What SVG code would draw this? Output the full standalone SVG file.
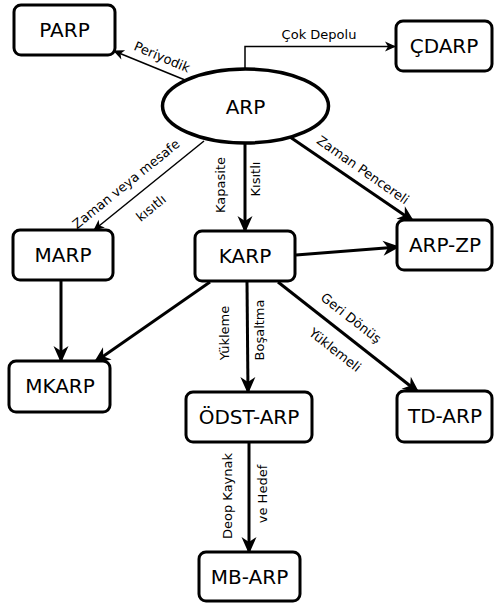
<svg xmlns="http://www.w3.org/2000/svg" width="494" height="603" viewBox="0 0 494 603">
<style>
.box{fill:#fff;stroke:#000;stroke-width:3}
.nt{font-family:"DejaVu Sans",sans-serif;font-size:20px;text-anchor:middle;dominant-baseline:central;fill:#000}
.el{font-family:"DejaVu Sans",sans-serif;font-size:13px;text-anchor:middle;dominant-baseline:central;fill:#000}
.thick{fill:none;stroke:#000;stroke-width:3}
.thin{fill:none;stroke:#000;stroke-width:1.5}
</style>
<defs>
<marker id="ah" markerUnits="userSpaceOnUse" markerWidth="20" markerHeight="16" viewBox="0 -8 18 16" refX="15" refY="0" orient="auto">
<path d="M17,0 L0,-7.5 L5,0 L0,7.5 Z" fill="#000"/>
</marker>
<marker id="as" markerUnits="userSpaceOnUse" markerWidth="14" markerHeight="12" viewBox="0 -6 12 12" refX="10" refY="0" orient="auto">
<path d="M11,0 L0,-5 L3,0 L0,5 Z" fill="#000"/>
</marker>
</defs>
<g id="connectors">
<path class="thin" d="M245,69 L245,46.5 L395,46.5" marker-end="url(#as)"/>
<line class="thin" x1="185" y1="80" x2="114" y2="51" marker-end="url(#as)"/>
<line class="thin" x1="204" y1="141" x2="94" y2="230" marker-end="url(#as)"/>
<line class="thick" x1="245" y1="143" x2="245" y2="231" marker-end="url(#ah)"/>
<line class="thick" x1="290" y1="137" x2="413" y2="221" marker-end="url(#ah)"/>
<line class="thick" x1="296" y1="255" x2="398" y2="247" marker-end="url(#ah)"/>
<line class="thick" x1="61" y1="280" x2="61" y2="361" marker-end="url(#ah)"/>
<line class="thick" x1="210" y1="282" x2="95" y2="362" marker-end="url(#ah)"/>
<line class="thick" x1="247" y1="282" x2="248" y2="392" marker-end="url(#ah)"/>
<line class="thick" x1="278" y1="282" x2="418" y2="392" marker-end="url(#ah)"/>
<line class="thick" x1="249" y1="442" x2="249" y2="552" marker-end="url(#ah)"/>
<text class="el" x="319" y="34">Çok Depolu</text>
<text class="el" transform="translate(162,57) rotate(23)">Periyodik</text>
<text class="el" transform="translate(126,184) rotate(-39)">Zaman veya mesafe</text>
<text class="el" transform="translate(151,208) rotate(-39)">kısıtlı</text>
<text class="el" transform="translate(220,185) rotate(-90)">Kapasite</text>
<text class="el" transform="translate(255,179) rotate(-90)">Kısıtlı</text>
<text class="el" transform="translate(363,170) rotate(35)">Zaman Pencereli</text>
<text class="el" transform="translate(351,318) rotate(38)">Geri Dönüş</text>
<text class="el" transform="translate(335,350) rotate(38)">Yüklemeli</text>
<text class="el" transform="translate(224,333) rotate(-90)">Yükleme</text>
<text class="el" transform="translate(259,330) rotate(-90)">Boşaltma</text>
<text class="el" transform="translate(227,496) rotate(-90)">Deop Kaynak</text>
<text class="el" transform="translate(262,494) rotate(-90)">ve Hedef</text>
</g>
<g id="ARP">
<ellipse cx="245.5" cy="106" rx="83" ry="37" fill="#fff" stroke="#000" stroke-width="3.5"/>
<text class="nt" x="245.5" y="107">ARP</text>
</g>
<g id="PARP">
<rect class="box" x="14" y="5" width="101" height="50" rx="7"/>
<text class="nt" x="64.5" y="30">PARP</text>
</g>
<g id="CDARP">
<rect class="box" x="396" y="21" width="96" height="50" rx="7"/>
<text class="nt" x="444" y="46">ÇDARP</text>
</g>
<g id="MARP">
<rect class="box" x="13" y="230" width="100" height="50" rx="7"/>
<text class="nt" x="63" y="255">MARP</text>
</g>
<g id="KARP">
<rect class="box" x="195" y="231" width="100" height="50" rx="7"/>
<text class="nt" x="245" y="256">KARP</text>
</g>
<g id="ARP-ZP">
<rect class="box" x="397" y="220" width="95" height="50" rx="7"/>
<text class="nt" x="445" y="245">ARP-ZP</text>
</g>
<g id="MKARP">
<rect class="box" x="9" y="361" width="101" height="51" rx="7"/>
<text class="nt" x="60" y="386">MKARP</text>
</g>
<g id="ODST-ARP">
<rect class="box" x="186" y="392" width="126" height="50" rx="7"/>
<text class="nt" x="249" y="417">ÖDST-ARP</text>
</g>
<g id="TD-ARP">
<rect class="box" x="397" y="391" width="95" height="51" rx="7"/>
<text class="nt" x="445" y="416">TD-ARP</text>
</g>
<g id="MB-ARP">
<rect class="box" x="199" y="552" width="101" height="49" rx="7"/>
<text class="nt" x="249.5" y="577">MB-ARP</text>
</g>
</svg>
